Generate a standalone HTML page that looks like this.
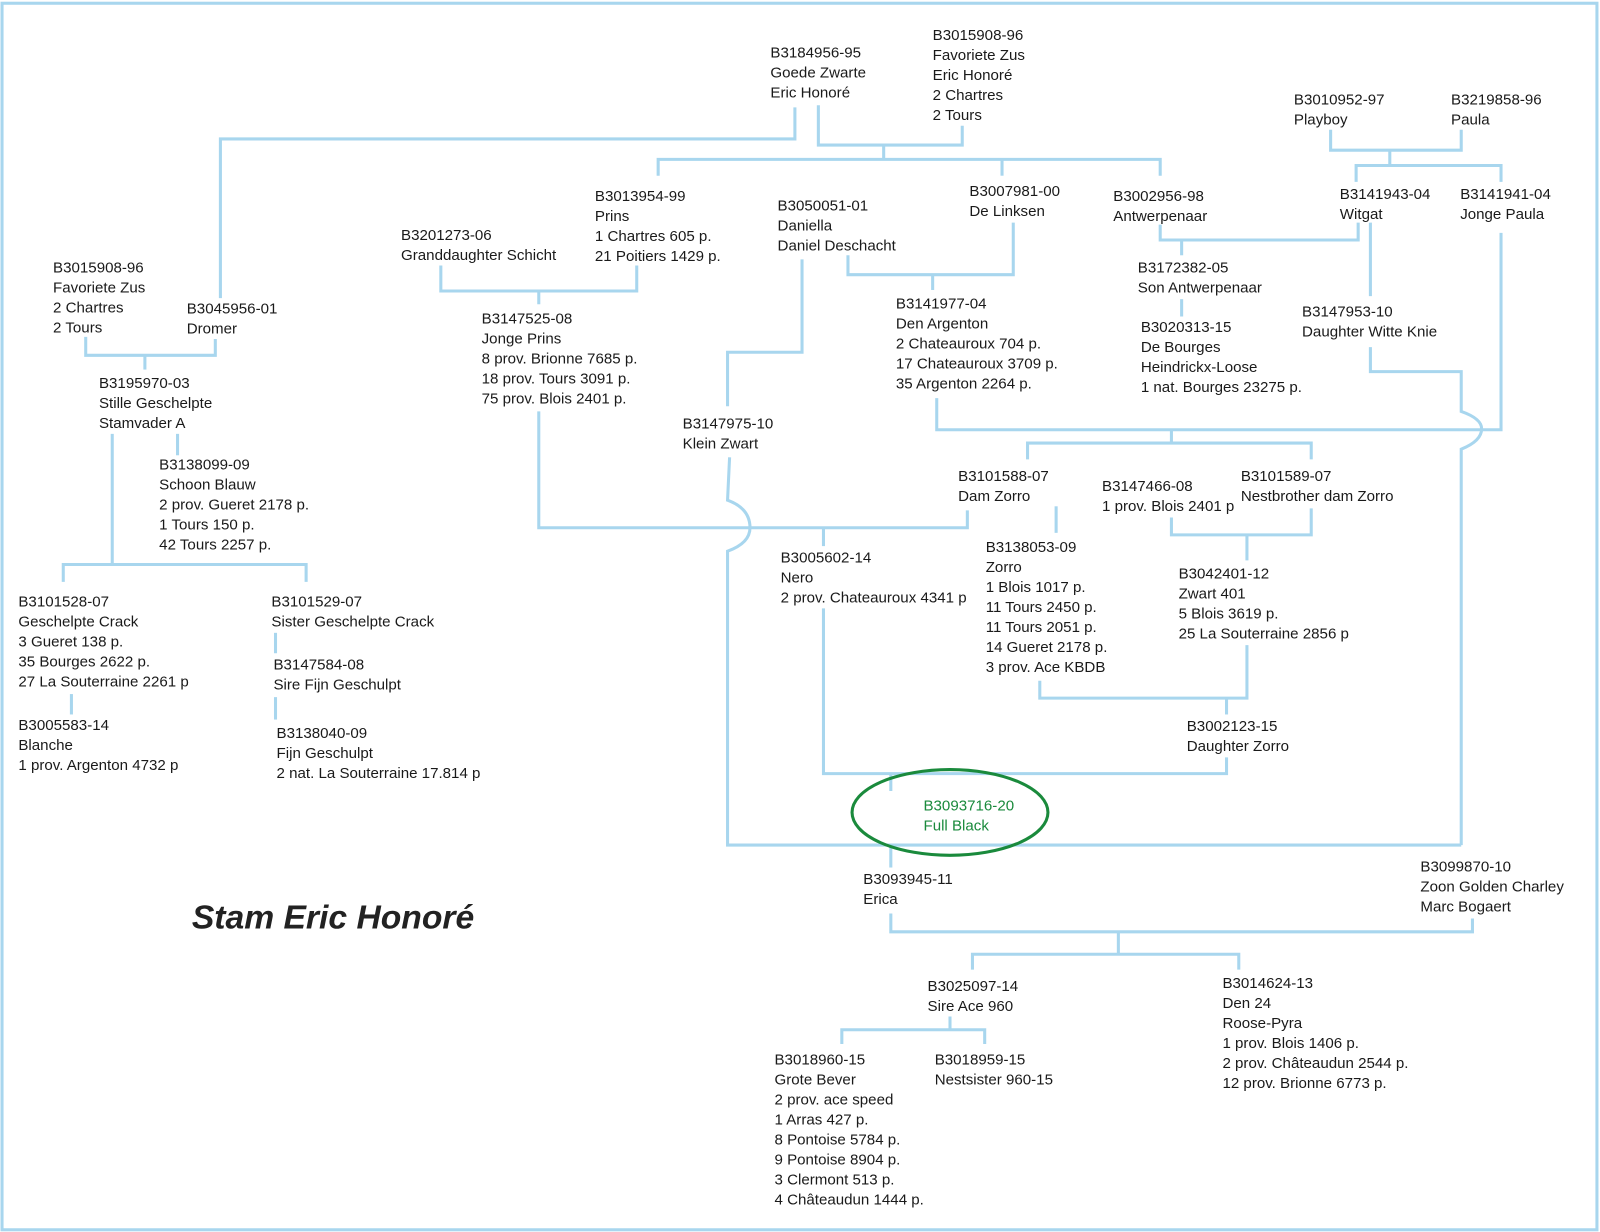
<!DOCTYPE html>
<html><head><meta charset="utf-8"><style>
html,body{margin:0;padding:0;background:#fff}
svg{display:block}
text{font-family:"Liberation Sans",sans-serif;font-size:14.8px;fill:#1a1a1a}
</style></head><body>
<svg width="1600" height="1232" viewBox="0 0 1568 1207" xmlns="http://www.w3.org/2000/svg">
<rect x="2" y="3" width="1563" height="1202" fill="none" stroke="#a8d6ee" stroke-width="3"/>
<g fill="none" stroke="#a8d6ee" stroke-width="3">
<polyline points="779,105 779,136 216,136 216,292"/>
<polyline points="802,103 802,142 943,142 943,123"/>
<polyline points="866,142 866,156"/>
<polyline points="645,172 645,156 1137,156 1137,172"/>
<polyline points="982,156 982,172"/>
<polyline points="1304,127 1304,147 1432,147 1432,127"/>
<polyline points="1362,147 1362,162"/>
<polyline points="1329,178 1329,162 1471,162 1471,178"/>
<polyline points="1137,220 1137,235 1331,235 1331,218"/>
<polyline points="1158,235 1158,250"/>
<polyline points="1158,293 1158,310"/>
<polyline points="1343,218 1343,290"/>
<path d="M1343,340 V364 H1432 V403 Q1452,410 1452,420 Q1452,432 1432,440 V828"/>
<polyline points="1471,228 1471,421 918,421 918,390"/>
<polyline points="432,260 432,285 624,285 624,260"/>
<polyline points="528,285 528,298"/>
<polyline points="831,250 831,269 993,269 993,218"/>
<polyline points="914,269 914,284"/>
<polyline points="786,254 786,345 713,345 713,398"/>
<polyline points="1148,421 1148,434"/>
<polyline points="1007,450 1007,434 1285,434 1285,450"/>
<polyline points="528,403 528,517 948,517 948,500"/>
<path d="M715,448 L713,490 Q735,498 735,517 Q735,532 713,540 V828 H1432"/>
<polyline points="807,517 807,535"/>
<polyline points="807,596 807,758 1202,758 1202,742"/>
<polyline points="873,758 873,775"/>
<polyline points="1035,496 1035,522"/>
<polyline points="1148,507 1148,524 1285,524 1285,498"/>
<polyline points="1222,524 1222,549"/>
<polyline points="1019,667 1019,684 1222,684 1222,632"/>
<polyline points="1202,684 1202,700"/>
<polyline points="873,830 873,850"/>
<polyline points="873,895 873,913 1443,913 1443,900"/>
<polyline points="1096,913 1096,935"/>
<polyline points="953,950 953,935 1214,935 1214,950"/>
<polyline points="931,996 931,1009"/>
<polyline points="825,1023 825,1009 965,1009 965,1023"/>
<polyline points="84,330 84,348 211,348 211,332"/>
<polyline points="142,348 142,362"/>
<polyline points="110,425 110,553"/>
<polyline points="174,425 174,446"/>
<polyline points="62,570 62,553 300,553 300,570"/>
<polyline points="70,680 70,700"/>
<polyline points="270,620 270,640"/>
<polyline points="270,683 270,705"/>
</g>
<ellipse cx="931" cy="796" rx="96" ry="42" fill="none" stroke="#1a8a3c" stroke-width="3"/>
<text x="188" y="910" style="font-size:33px;font-weight:bold;font-style:italic;fill:#222">Stam Eric Honoré</text>
<g>
<text x="755" y="56">B3184956-95<tspan x="755" dy="19.6">Goede Zwarte</tspan><tspan x="755" dy="19.6">Eric Honoré</tspan></text>
<text x="914" y="39">B3015908-96<tspan x="914" dy="19.6">Favoriete Zus</tspan><tspan x="914" dy="19.6">Eric Honoré</tspan><tspan x="914" dy="19.6">2 Chartres</tspan><tspan x="914" dy="19.6">2 Tours</tspan></text>
<text x="1268" y="102">B3010952-97<tspan x="1268" dy="19.6">Playboy</tspan></text>
<text x="1422" y="102">B3219858-96<tspan x="1422" dy="19.6">Paula</tspan></text>
<text x="583" y="197">B3013954-99<tspan x="583" dy="19.6">Prins</tspan><tspan x="583" dy="19.6">1 Chartres 605 p.</tspan><tspan x="583" dy="19.6">21 Poitiers 1429 p.</tspan></text>
<text x="762" y="206">B3050051-01<tspan x="762" dy="19.6">Daniella</tspan><tspan x="762" dy="19.6">Daniel Deschacht</tspan></text>
<text x="950" y="192">B3007981-00<tspan x="950" dy="19.6">De Linksen</tspan></text>
<text x="1091" y="197">B3002956-98<tspan x="1091" dy="19.6">Antwerpenaar</tspan></text>
<text x="1313" y="195">B3141943-04<tspan x="1313" dy="19.6">Witgat</tspan></text>
<text x="1431" y="195">B3141941-04<tspan x="1431" dy="19.6">Jonge Paula</tspan></text>
<text x="393" y="235">B3201273-06<tspan x="393" dy="19.6">Granddaughter Schicht</tspan></text>
<text x="52" y="267">B3015908-96<tspan x="52" dy="19.6">Favoriete Zus</tspan><tspan x="52" dy="19.6">2 Chartres</tspan><tspan x="52" dy="19.6">2 Tours</tspan></text>
<text x="183" y="307">B3045956-01<tspan x="183" dy="19.6">Dromer</tspan></text>
<text x="1115" y="267">B3172382-05<tspan x="1115" dy="19.6">Son Antwerpenaar</tspan></text>
<text x="878" y="302">B3141977-04<tspan x="878" dy="19.6">Den Argenton</tspan><tspan x="878" dy="19.6">2 Chateauroux 704 p.</tspan><tspan x="878" dy="19.6">17 Chateauroux 3709 p.</tspan><tspan x="878" dy="19.6">35 Argenton 2264 p.</tspan></text>
<text x="472" y="317">B3147525-08<tspan x="472" dy="19.6">Jonge Prins</tspan><tspan x="472" dy="19.6">8 prov. Brionne 7685 p.</tspan><tspan x="472" dy="19.6">18 prov. Tours 3091 p.</tspan><tspan x="472" dy="19.6">75 prov. Blois 2401 p.</tspan></text>
<text x="1276" y="310">B3147953-10<tspan x="1276" dy="19.6">Daughter Witte Knie</tspan></text>
<text x="1118" y="325">B3020313-15<tspan x="1118" dy="19.6">De Bourges</tspan><tspan x="1118" dy="19.6">Heindrickx-Loose</tspan><tspan x="1118" dy="19.6">1 nat. Bourges 23275 p.</tspan></text>
<text x="97" y="380">B3195970-03<tspan x="97" dy="19.6">Stille Geschelpte</tspan><tspan x="97" dy="19.6">Stamvader A</tspan></text>
<text x="669" y="420">B3147975-10<tspan x="669" dy="19.6">Klein Zwart</tspan></text>
<text x="156" y="460">B3138099-09<tspan x="156" dy="19.6">Schoon Blauw</tspan><tspan x="156" dy="19.6">2 prov. Gueret 2178 p.</tspan><tspan x="156" dy="19.6">1 Tours 150 p.</tspan><tspan x="156" dy="19.6">42 Tours 2257 p.</tspan></text>
<text x="939" y="471">B3101588-07<tspan x="939" dy="19.6">Dam Zorro</tspan></text>
<text x="1080" y="481">B3147466-08<tspan x="1080" dy="19.6">1 prov. Blois 2401 p</tspan></text>
<text x="1216" y="471">B3101589-07<tspan x="1216" dy="19.6">Nestbrother dam Zorro</tspan></text>
<text x="966" y="541">B3138053-09<tspan x="966" dy="19.6">Zorro</tspan><tspan x="966" dy="19.6">1 Blois 1017 p.</tspan><tspan x="966" dy="19.6">11 Tours 2450 p.</tspan><tspan x="966" dy="19.6">11 Tours 2051 p.</tspan><tspan x="966" dy="19.6">14 Gueret 2178 p.</tspan><tspan x="966" dy="19.6">3 prov. Ace KBDB</tspan></text>
<text x="765" y="551">B3005602-14<tspan x="765" dy="19.6">Nero</tspan><tspan x="765" dy="19.6">2 prov. Chateauroux 4341 p</tspan></text>
<text x="1155" y="567">B3042401-12<tspan x="1155" dy="19.6">Zwart 401</tspan><tspan x="1155" dy="19.6">5 Blois 3619 p.</tspan><tspan x="1155" dy="19.6">25 La Souterraine 2856 p</tspan></text>
<text x="18" y="594">B3101528-07<tspan x="18" dy="19.6">Geschelpte Crack</tspan><tspan x="18" dy="19.6">3 Gueret 138 p.</tspan><tspan x="18" dy="19.6">35 Bourges 2622 p.</tspan><tspan x="18" dy="19.6">27 La Souterraine 2261 p</tspan></text>
<text x="266" y="594">B3101529-07<tspan x="266" dy="19.6">Sister Geschelpte Crack</tspan></text>
<text x="268" y="656">B3147584-08<tspan x="268" dy="19.6">Sire Fijn Geschulpt</tspan></text>
<text x="18" y="715">B3005583-14<tspan x="18" dy="19.6">Blanche</tspan><tspan x="18" dy="19.6">1 prov. Argenton 4732 p</tspan></text>
<text x="271" y="723">B3138040-09<tspan x="271" dy="19.6">Fijn Geschulpt</tspan><tspan x="271" dy="19.6">2 nat. La Souterraine 17.814 p</tspan></text>
<text x="1163" y="716">B3002123-15<tspan x="1163" dy="19.6">Daughter Zorro</tspan></text>
<text x="905" y="794" style="fill:#1a8a3c">B3093716-20<tspan x="905" dy="19.6">Full Black</tspan></text>
<text x="846" y="866">B3093945-11<tspan x="846" dy="19.6">Erica</tspan></text>
<text x="1392" y="854">B3099870-10<tspan x="1392" dy="19.6">Zoon Golden Charley</tspan><tspan x="1392" dy="19.6">Marc Bogaert</tspan></text>
<text x="909" y="971">B3025097-14<tspan x="909" dy="19.6">Sire Ace 960</tspan></text>
<text x="1198" y="968">B3014624-13<tspan x="1198" dy="19.6">Den 24</tspan><tspan x="1198" dy="19.6">Roose-Pyra</tspan><tspan x="1198" dy="19.6">1 prov. Blois 1406 p.</tspan><tspan x="1198" dy="19.6">2 prov. Châteaudun 2544 p.</tspan><tspan x="1198" dy="19.6">12 prov. Brionne 6773 p.</tspan></text>
<text x="759" y="1043">B3018960-15<tspan x="759" dy="19.6">Grote Bever</tspan><tspan x="759" dy="19.6">2 prov. ace speed</tspan><tspan x="759" dy="19.6">1 Arras 427 p.</tspan><tspan x="759" dy="19.6">8 Pontoise 5784 p.</tspan><tspan x="759" dy="19.6">9 Pontoise 8904 p.</tspan><tspan x="759" dy="19.6">3 Clermont 513 p.</tspan><tspan x="759" dy="19.6">4 Châteaudun 1444 p.</tspan></text>
<text x="916" y="1043">B3018959-15<tspan x="916" dy="19.6">Nestsister 960-15</tspan></text>
</g>
</svg>
</body></html>
